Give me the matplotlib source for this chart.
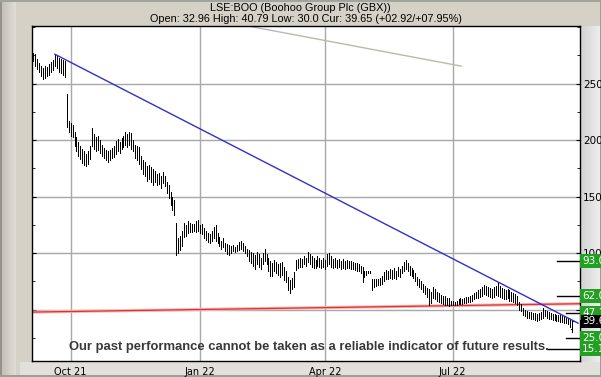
import matplotlib
matplotlib.use('Agg')

from matplotlib import pyplot as plt
from matplotlib.ticker import MultipleLocator
import matplotlib.transforms as mtransforms
import numpy as np
import pandas as pd

title = "LSE:BOO (Boohoo Group Plc (GBX))"
subtitle = "Open: 32.96 High: 40.79 Low: 30.0 Cur: 39.65 (+02.92/+07.95%)"
disclaimer = "Our past performance cannot be taken as a reliable indicator of future results."

# daily bars, one per business day from the first date
start_date = "2021-09-06"
highs = [
    277, 276, 272, 268, 266, 264, 266, 265, 267, 269,
    271, 276, 275, 273, 272, 271, 270, 241, 217, 215,
    213, 207, 203, 198, 195, 192, 190, 188, 190, 195,
    211, 205, 203, 204, 200, 196, 193, 191, 190, 191,
    193, 195, 199, 201, 198, 202, 204, 207, 205, 207,
    206, 200, 196, 195, 194, 186, 182, 181, 177, 178,
    176, 174, 173, 170, 171, 168, 172, 168, 163, 160,
    154, 150, 147, 127, 113, 115, 120, 127, 125, 128,
    127, 126, 126, 128, 129, 125, 126, 122, 120, 118,
    117, 120, 123, 125, 118, 114, 111, 113, 109, 108,
    107, 106, 107, 105, 107, 110, 111, 109, 106, 104,
    103, 101, 100, 98, 101, 99, 96, 100, 104, 99,
    96, 93, 91, 94, 92, 90, 91, 92, 88, 84,
    79, 76, 78, 83, 94, 95, 96, 95, 97, 96,
    101, 99, 97, 96, 94, 97, 96, 94, 96, 94,
    99, 100, 97, 95, 96, 94, 95, 93, 95, 93,
    94, 93, 93, 92, 91, 91, 90, 89, 88, 84,
    84, 84, 84, 77, 77, 77, 77, 78, 80, 83,
    85, 84, 86, 85, 87, 84, 88, 86, 89, 92,
    94, 91, 89, 87, 85, 82, 79, 77, 75, 73,
    71, 69, 68, 66, 70, 68, 66, 65, 63, 62,
    62, 60, 60, 58, 58, 57, 58, 59, 60, 59,
    60, 61, 61, 62, 63, 65, 66, 67, 68, 70,
    72, 71, 70, 69, 68, 70, 71, 74, 71, 69,
    68, 67, 68, 67, 66, 65, 64, 62, 57, 55,
    51, 50, 49, 48, 48, 47, 47, 46, 47, 48,
    51, 50, 49, 48, 47, 46, 46, 45, 45, 45,
    44, 44, 43, 43, 41, 40.79,
]
lows = [
    270, 266, 263, 260, 257, 254, 255, 257, 258, 260,
    262, 266, 264, 260, 259, 258, 256, 212, 207, 204,
    203, 195, 190, 186, 183, 180, 178, 177, 179, 183,
    195, 192, 190, 191, 189, 186, 184, 182, 181, 182,
    184, 185, 188, 190, 189, 192, 194, 196, 194, 196,
    192, 190, 184, 182, 179, 174, 170, 168, 164, 166,
    163, 160, 163, 160, 161, 158, 162, 159, 153, 149,
    143, 138, 134, 98, 100, 103, 106, 114, 115, 118,
    119, 119, 120, 119, 120, 118, 117, 113, 112, 110,
    109, 111, 113, 111, 109, 106, 104, 105, 102, 99,
    98, 100, 102, 101, 102, 103, 104, 102, 100, 97,
    93, 91, 89, 86, 90, 88, 86, 90, 93, 90,
    84, 80, 80, 84, 82, 81, 79, 81, 76, 74,
    67, 65, 68, 70, 85, 87, 88, 88, 90, 89,
    92, 90, 88, 87, 87, 89, 88, 87, 88, 86,
    89, 90, 88, 87, 88, 87, 88, 86, 87, 86,
    87, 87, 86, 86, 85, 84, 84, 82, 74, 79,
    81, 82, 82, 67, 70, 71, 72, 72, 73, 75,
    77, 77, 78, 77, 78, 77, 80, 79, 82, 84,
    86, 84, 81, 80, 78, 75, 72, 70, 68, 66,
    64, 61, 54, 56, 60, 59, 58, 57, 56, 55,
    54, 54, 53, 54, 54, 54, 54, 55, 55, 55,
    56, 56, 57, 57, 58, 59, 60, 60, 61, 62,
    64, 63, 62, 61, 60, 61, 63, 62, 61, 60,
    59, 59, 60, 58, 58, 57, 56, 54, 50, 49,
    45, 44, 43, 43, 42, 42, 41, 40, 41, 42,
    43, 44, 43, 42, 42, 41, 41, 40, 40, 39,
    39, 38, 38, 37, 35, 30.0,
]
last_open = 32.96
last_close = 39.65

tick_dates = ["2021-10-01", "2022-01-03", "2022-04-01", "2022-07-01"]
tick_labels = ["Oct 21", "Jan 22", "Apr 22", "Jul 22"]
price_ticks = [50, 100, 150, 200, 250]

# drawn trend lines: (bar index pair, price pair)
down_trend_x = [11, 278]
down_trend_y = [276, 38]
support_x = [-1, 279]
support_y = [47.8, 55.2]
old_trend_x = [100, 218.3]
old_trend_y = [304.1, 265.5]

targets = [93.0, 62.0, 47.1, 25.0, 15.1]
target_text = ["93.00", "62.00", "47.10", "25.00", "15.10"]


def make_background(h, w):
    img = np.ones((h, w, 3))
    img[:] = [0.84, 0.82, 0.78]
    # soft bevel on the left side
    for i in range(16):
        img[:, i] = np.array([0.76, 0.74, 0.71]) + i / 15.0 * 0.12
    img[:, :2] = [0.58, 0.58, 0.55]
    img[-2:, :] = [0.62, 0.62, 0.60]
    img[:2, :] = [0.64, 0.64, 0.62]
    img[:, -1:] = [0.62, 0.62, 0.60]
    # right axis strip
    for i in range(581, w - 1):
        img[26:362, i] = 0.83 + (i - 581) / 20.0 * 0.11
    # date strip
    img[362:375, 20:w - 1] = [0.89, 0.88, 0.86]
    return img


def main():
    n = len(highs)
    dates = pd.bdate_range(start_date, periods=n)
    idx = np.arange(n)

    fig = plt.figure(figsize=(6.01, 3.77), dpi=100)
    fig.figimage(make_background(377, 601), xo=0, yo=0, origin='upper', zorder=-1)

    ax = fig.add_axes([32 / 601, 16 / 377, 548 / 601, 335 / 377])
    ax.set_facecolor('white')

    ax.vlines(idx, lows, highs, color='black', lw=0.72, antialiased=False, zorder=3)
    ax.plot([idx[-1] - 0.8, idx[-1]], [last_open, last_open], color='black', lw=0.8, zorder=3)
    ax.plot([idx[-1], idx[-1] + 0.8], [last_close, last_close], color='black', lw=0.8, zorder=3)

    ax.plot(support_x, support_y, color='#f5b8b8', lw=2.3, zorder=2, solid_capstyle='butt')
    ax.plot(support_x, support_y, color='#e03030', lw=0.9, zorder=2)
    ax.plot(down_trend_x, down_trend_y, color='#3030cc', lw=1.0, zorder=4)
    ax.plot(old_trend_x, old_trend_y, color='#bdb8ac', lw=1, zorder=2)

    ax.set_xlim(-0.7, 279)
    ax.set_ylim(4.5, 301)

    tick_pos = [int(dates.searchsorted(pd.Timestamp(d))) for d in tick_dates]
    ax.set_xticks(tick_pos)
    ax.set_xticklabels(tick_labels)
    ax.set_yticks(price_ticks)
    ax.yaxis.set_minor_locator(MultipleLocator(25))
    ax.grid(True, which='major', color='#a8a8a8', lw=1)
    ax.set_axisbelow(True)

    ax.tick_params(axis='x', length=0, pad=4, labelsize=7)
    ax.tick_params(axis='y', which='both', left=True, right=True, direction='in',
                   labelleft=False, labelright=True, labelsize=7.5, pad=2)
    ax.tick_params(axis='y', which='major', length=3)
    ax.tick_params(axis='y', which='minor', length=2)
    for s in ax.spines.values():
        s.set_color('black')
        s.set_linewidth(1)

    trans = mtransforms.blended_transform_factory(ax.transAxes, ax.transData)
    line_start = [0.958, 0.958, 0.974, 0.974, 0.94]
    for val, txt, x0 in zip(targets, target_text, line_start):
        ax.plot([x0, 1.0], [val, val], color='black', lw=1, transform=trans, zorder=5)
        ax.text(1.004, val, txt, transform=trans, ha='left', va='center', fontsize=7.5,
                color='white', clip_on=False, zorder=6,
                bbox=dict(boxstyle='square,pad=0.2', fc='#22a022', ec='none'))
    ax.text(1.004, last_close, "39.65", transform=trans, ha='left', va='center', fontsize=7.5,
            color='white', clip_on=False, zorder=6,
            bbox=dict(boxstyle='square,pad=0.15', fc='black', ec='none'))

    ax.text(0.505, 0.042, disclaimer, transform=ax.transAxes,
            ha='center', va='center', fontsize=9.4, fontweight='bold', color='#383838',
            family='Liberation Sans', zorder=7)

    fig.text(0.499, 1 - 8 / 377, title, ha='center', va='center', fontsize=7.8,
             color='black', family='Liberation Sans')
    fig.text(0.509, 1 - 19 / 377, subtitle, ha='center', va='center', fontsize=7.8,
             color='black', family='Liberation Sans')

    fig.savefig('out.png', dpi=100)
    plt.close()


main()
